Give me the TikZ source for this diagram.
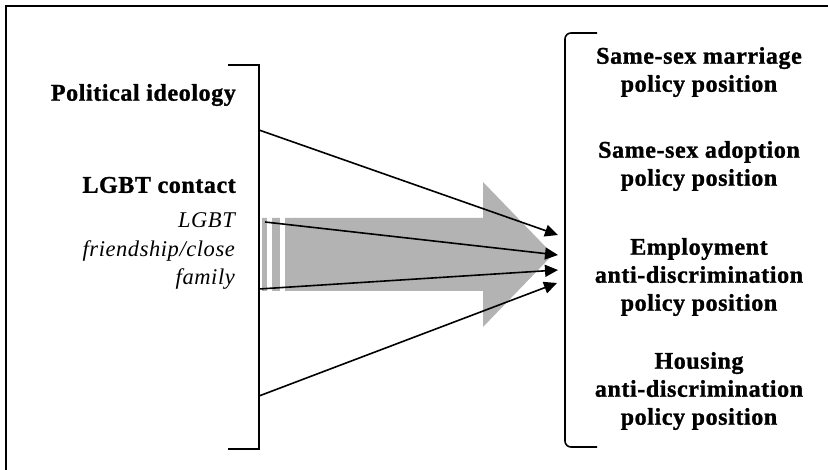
\documentclass[tikz,border=0pt]{standalone}
\usepackage{fontspec}
\setmainfont{Liberation Serif}[LetterSpace=2.5, BoldFeatures={FakeBold=1.2}]
\usetikzlibrary{arrows.meta}
\definecolor{arrowgray}{HTML}{B3B3B3}
\begin{document}
\begin{tikzpicture}[x=1pt,y=-1pt,
  lbl/.style={font=\fontsize{24}{28}\selectfont\bfseries, inner sep=0pt},
  ilbl/.style={font=\fontsize{22.5}{28.5}\selectfont\itshape, inner sep=0pt, align=right},
  rlbl/.style={font=\fontsize{24}{28}\selectfont\bfseries, inner sep=0pt, align=center},
  link/.style={line width=1.6pt, -{Triangle[length=13pt,width=12pt]}},
  brk/.style={line width=1.6pt}]
\useasboundingbox (0,0) rectangle (828,470);
\begin{scope}
\clip (0,0) rectangle (828,470);
\draw[line width=2pt] (6,6) rectangle (860,500);
\end{scope}
% gray arrow
\fill[arrowgray] (262,218) -- (483,218) -- (483,182) -- (553,254.5) -- (483,327) -- (483,291) -- (262,291) -- cycle;
\fill[white] (267,217) rectangle (272,292);
\fill[white] (280,217) rectangle (285,292);
% brackets
\draw[brk] (228,65) -- (259,65) -- (259,449) -- (228,449);
\draw[brk, rounded corners=6pt] (597,33) -- (565,33) -- (565,447) -- (597,447);
% left labels
\node[lbl, anchor=east] (pol) at (236,95) {Political ideology};
\node[lbl, anchor=east] (lgbt) at (236,185) {LGBT contact};
\node[ilbl, anchor=east] (fr) at (235,251) {LGBT\\friendship/close\\family};
% right labels
\node[rlbl] (marr) at (699,72) {Same-sex marriage\\policy position};
\node[rlbl] (adop) at (699,166) {Same-sex adoption\\policy position};
\node[rlbl] (empl) at (699,277) {Employment\\anti-discrimination\\policy position};
\node[rlbl] (hous) at (699,391) {Housing\\anti-discrimination\\policy position};
% connector ends
\coordinate (s1) at (259,130);
\coordinate (s2) at (265,222);
\coordinate (s3) at (259,289);
\coordinate (s4) at (259,396);
\coordinate (t1) at (558,235);
\coordinate (t2) at (558,255);
\coordinate (t3) at (558,270);
\coordinate (t4) at (557,283);
\draw[link] (s1) -- (t1);
\draw[link] (s2) -- (t2);
\draw[link] (s3) -- (t3);
\draw[link] (s4) -- (t4);
\end{tikzpicture}
\end{document}
